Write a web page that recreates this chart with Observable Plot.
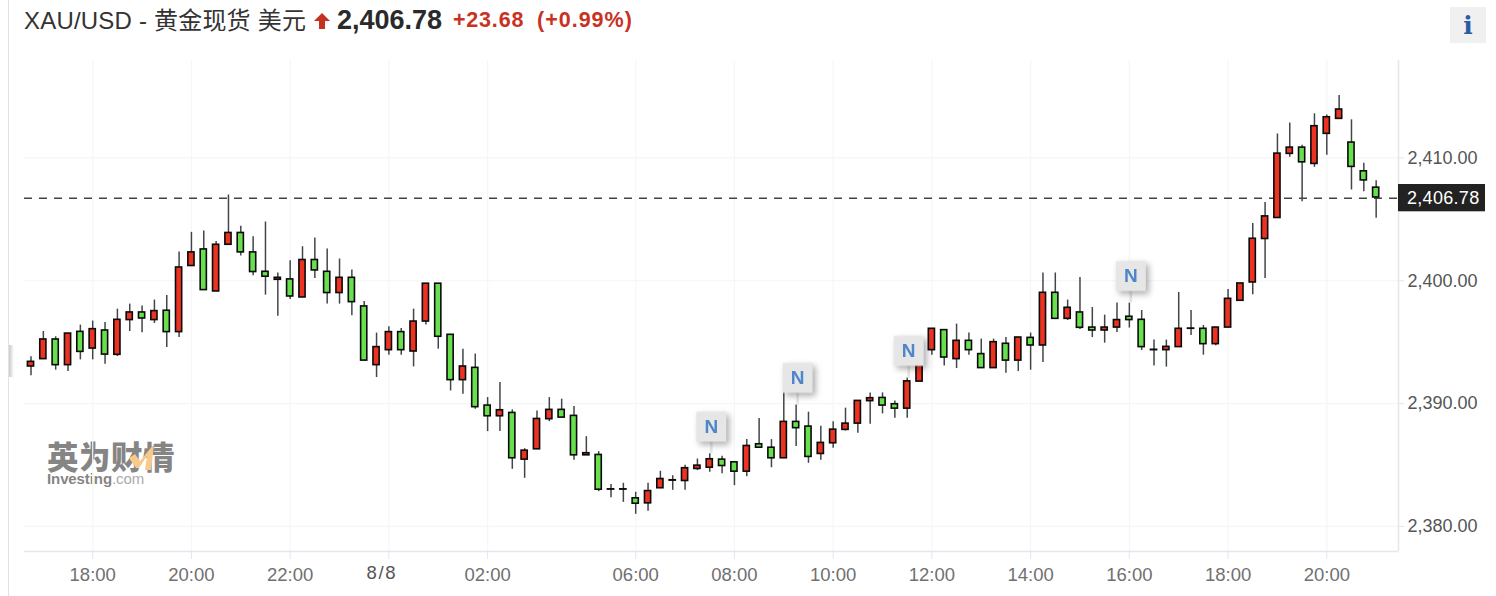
<!DOCTYPE html>
<html><head><meta charset="utf-8">
<script src="https://cdn.jsdelivr.net/npm/d3@7"></script>
<script src="https://cdn.jsdelivr.net/npm/@observablehq/plot@0.6"></script>
<style>
html,body{margin:0;padding:0;background:#fff;width:1496px;height:596px;overflow:hidden;font-family:"Liberation Sans","Noto Sans CJK SC",sans-serif}
#page{position:relative;width:1496px;height:596px;overflow:hidden}
.h{position:absolute;white-space:nowrap;line-height:1}
#chart{position:absolute;left:0;top:60px}
#chart svg{overflow:visible;display:block}
.tag{filter:drop-shadow(3px 3px 3px rgba(0,0,0,.32))}
.wide{letter-spacing:1.6px}
</style></head><body>
<div id="page">
<div style="position:absolute;left:8px;top:0;width:1px;height:596px;background:#e2e2e2"></div>
<div style="position:absolute;left:9px;top:345px;width:5px;height:32px;background:linear-gradient(90deg,#c9c9c9,#fff)"></div>
<div class="h" id="t1" style="left:24px;top:9px;font-size:24px;letter-spacing:.2px;color:#333">XAU/USD - 黄金现货 美元</div>
<svg style="position:absolute;left:314px;top:13px" width="16" height="16" viewBox="0 0 16 16"><path d="M8 0 L16 8 L11 8 L11 16 L5 16 L5 8 L0 8 Z" fill="#c4311f"/></svg>
<div class="h" id="t2" style="left:337px;top:7px;font-size:27px;font-weight:700;color:#2a2a2a">2,406.78</div>
<div class="h" id="t3" style="left:453px;top:10px;font-size:21.5px;letter-spacing:.8px;font-weight:700;color:#c8321f">+23.68</div>
<div class="h" id="t4" style="left:537px;top:10px;font-size:21.5px;letter-spacing:1px;font-weight:700;color:#c8321f">(+0.99%)</div>
<div style="position:absolute;left:1450px;top:7px;width:36px;height:36px;background:#f0f0f0;text-align:center;font:700 25px/38px 'DejaVu Serif',serif;color:#2a5ca8">i</div>
<div id="logo" style="position:absolute;left:47px;top:438px;color:#858585">
  <div style="font:900 31.5px/34px 'Noto Sans CJK SC',sans-serif;letter-spacing:0.5px;white-space:nowrap">英为财情</div>
  <svg style="position:absolute;left:82px;top:6px" width="32" height="26" viewBox="0 0 32 26"><path d="M0 14 L6 10 L11 17 L25 0 L22 26 L16 26 L18 12 L10 24 L7 24 Z" fill="#f7c98b"/></svg>
  <div style="position:absolute;left:0;top:33px;white-space:nowrap;font:700 15px/15px 'Liberation Sans',sans-serif;letter-spacing:-.1px">Investing<span style="font-weight:400;color:#aaa">.com</span></div>
</div>
<div id="chart"></div>
<div style="position:absolute;left:1398px;top:184px;width:87px;height:27px;background:#222;color:#fff;font-size:18px;letter-spacing:.3px;line-height:29px;text-indent:9px;box-shadow:0 1px 0 #bbb">2,406.78</div>
</div>
<script>
const highs=[2393.81,2395.87,2395.44,2395.70,2396.39,2396.72,2396.60,2397.69,2398.10,2397.94,
2398.43,2398.80,2402.34,2403.94,2404.05,2403.20,2406.98,2404.43,2403.59,2404.78,
2400.63,2401.63,2402.77,2403.48,2402.58,2401.77,2400.87,2398.31,2395.74,2396.25,
2396.11,2397.69,2399.76,2399.76,2395.60,2394.43,2394.03,2390.49,2391.71,2389.49,
2386.33,2389.40,2390.49,2390.36,2389.76,2387.31,2386.09,2383.41,2383.51,2382.78,
2383.51,2384.49,2384.13,2384.98,2385.49,2385.92,2385.71,2385.22,2387.07,2388.78,
2387.07,2390.90,2389.89,2389.30,2388.16,2388.53,2389.63,2390.22,2390.87,2390.87,
2390.22,2392.09,2394.29,2396.09,2395.98,2396.47,2395.74,2395.25,2395.25,2395.38,
2395.38,2395.74,2400.63,2400.63,2398.43,2400.27,2397.82,2397.20,2398.18,2398.18,
2397.58,2395.17,2395.17,2399.05,2397.58,2396.36,2396.19,2399.29,2399.78,2404.67,
2406.38,2411.95,2412.85,2411.04,2413.59,2413.50,2415.08,2413.10,2409.56,2408.15];
const lows=[2392.26,2393.62,2392.72,2392.61,2393.56,2393.56,2393.21,2393.83,2395.87,2395.76,
2396.52,2394.56,2395.38,2401.20,2399.24,2399.13,2402.93,2402.01,2400.41,2398.83,
2397.12,2398.48,2398.64,2400.19,2398.10,2398.10,2397.15,2393.50,2392.12,2393.94,
2393.94,2392.99,2396.39,2394.43,2391.03,2390.77,2389.54,2387.72,2387.72,2384.65,
2383.92,2386.28,2388.53,2388.86,2385.39,2385.79,2382.83,2382.34,2381.96,2380.99,
2381.23,2383.11,2382.94,2382.94,2384.54,2384.41,2384.29,2383.32,2384.05,2386.41,
2384.78,2385.55,2386.50,2385.14,2385.39,2386.37,2387.77,2387.59,2388.32,2389.16,
2388.81,2388.81,2391.79,2393.94,2393.07,2392.85,2393.94,2392.89,2392.89,2392.48,
2392.61,2392.72,2393.34,2396.90,2396.76,2396.03,2395.38,2394.92,2395.79,2396.15,
2394.32,2393.07,2392.97,2394.60,2395.54,2393.94,2394.70,2396.19,2398.37,2398.86,
2400.19,2405.11,2410.05,2406.44,2409.23,2410.21,2413.18,2407.39,2407.25,2405.08];
const opens=[2393.02,2393.62,2395.22,2393.13,2395.84,2394.48,2395.95,2393.97,2396.80,2397.42,
2396.80,2397.56,2395.82,2401.20,2402.55,2399.13,2402.93,2403.89,2402.31,2400.73,
2400.08,2400.11,2398.64,2401.69,2400.73,2399.00,2400.24,2397.91,2393.13,2394.35,
2395.82,2394.24,2396.68,2399.76,2395.60,2391.91,2392.91,2389.84,2388.97,2389.24,
2385.44,2386.28,2388.73,2389.49,2389.00,2385.79,2385.82,2383.00,2383.00,2382.29,
2381.88,2383.11,2383.73,2383.70,2384.68,2384.78,2385.44,2385.22,2384.46,2386.69,
2386.41,2385.55,2388.51,2388.13,2385.90,2386.77,2387.86,2388.37,2390.20,2390.46,
2389.95,2389.59,2391.79,2394.35,2395.98,2393.62,2395.11,2394.03,2392.89,2394.87,
2393.50,2395.35,2394.73,2399.02,2396.90,2397.42,2396.19,2395.95,2396.19,2397.07,
2396.82,2394.35,2394.35,2394.60,2396.09,2396.09,2394.84,2396.19,2398.37,2399.86,
2403.40,2405.11,2410.33,2410.84,2409.51,2411.96,2413.18,2411.25,2408.91,2407.58];
const closes=[2393.40,2395.22,2393.13,2395.70,2394.21,2396.06,2393.99,2396.82,2397.42,2396.93,
2397.53,2395.82,2401.08,2402.31,2399.24,2402.93,2403.89,2402.31,2400.71,2400.33,
2400.24,2398.72,2401.69,2400.84,2399.00,2400.24,2398.26,2393.50,2394.60,2395.82,
2394.35,2396.68,2399.76,2395.44,2391.91,2393.02,2389.71,2388.97,2389.46,2385.55,
2386.17,2388.75,2389.49,2388.86,2385.79,2385.96,2382.99,2383.02,2383.02,2381.85,
2382.88,2383.86,2383.76,2384.74,2384.95,2385.47,2384.92,2384.46,2386.55,2386.41,
2385.55,2388.51,2388.00,2385.66,2386.80,2387.88,2388.37,2390.22,2390.44,2389.84,
2389.59,2391.81,2394.29,2396.09,2393.75,2395.11,2394.35,2392.89,2395.00,2393.50,
2395.38,2394.73,2399.02,2396.90,2397.80,2396.17,2395.95,2396.19,2396.80,2396.80,
2394.60,2394.38,2394.62,2396.09,2396.11,2394.84,2396.19,2398.53,2399.78,2403.42,
2405.24,2410.35,2410.84,2409.64,2412.58,2413.31,2413.94,2409.27,2408.17,2406.78];
const tickIndex=[5,13,21,29,37,49,57,65,73,81,89,97,105];
const tickLabels=["18:00","20:00","22:00","8/8","02:00","06:00","08:00","10:00","12:00","14:00","16:00","18:00","20:00"];
const dateTick=29;
const priceTicks=[2380,2390,2400,2410];
const newsIndex=[55,62,71,89];
const lastPrice=2406.78;

const candles=highs.map((h,i)=>({i,high:h,low:lows[i],open:opens[i],close:closes[i]}));
const news=newsIndex.map(i=>({i,high:highs[i]}));
const RED="#ec3322",GREEN="#68e04e";
const xDomain=[-0.527,110.81], yDomain=[2377.96,2417.93];

const plot=Plot.plot({
  width:1496,height:536,
  marginLeft:24,marginRight:98,marginTop:0,marginBottom:45,
  style:{fontFamily:'"Liberation Sans",sans-serif',background:"transparent",overflow:"visible"},
  x:{type:"linear",domain:xDomain,axis:null},
  y:{type:"linear",domain:yDomain,axis:null},
  marks:[
    Plot.ruleY(priceTicks,{stroke:"#f5f5f5",strokeWidth:1.2}),
    Plot.ruleX(tickIndex,{stroke:"#f5f6f8",strokeWidth:1.2}),
    Plot.ruleY([yDomain[0]],{stroke:"#e3e6ee",strokeWidth:1.5}),
    Plot.ruleX([xDomain[1]],{stroke:"#e3e6ee",strokeWidth:1.5}),
    Plot.axisX(tickIndex,{anchor:"bottom",tickSize:8,tickPadding:8,stroke:"#e3e6ee",fill:"#707070",fontSize:18.5,label:null,
      tickFormat:i=>i===dateTick?"":tickLabels[tickIndex.indexOf(i)]}),
    Plot.text([dateTick],{x:d=>d,y:()=>yDomain[0],text:d=>tickLabels[tickIndex.indexOf(d)],dx:-7,dy:22,fill:"#555",fontSize:18.5,className:"wide"}),
    Plot.axisY(priceTicks,{anchor:"right",tickSize:5,tickPadding:4,stroke:"#e3e6ee",fill:"#555",fontSize:18,label:null,
      tickFormat:d3.format(",.2f"),textAnchor:"start"}),
    Plot.ruleY([lastPrice],{stroke:"#444",strokeWidth:1.4,strokeDasharray:"8,7",dy:0.8}),
    Plot.ruleX(candles,{x:"i",y1:"low",y2:"high",stroke:"#41464a",strokeWidth:1.5}),
    Plot.rect(candles,{
      x1:d=>d.i-0.25,x2:d=>d.i+0.25,
      y1:"open",y2:"close",
      fill:d=>d.close>=d.open?RED:GREEN,
      stroke:"#0a0a0a",strokeWidth:1.6}),
    Plot.ruleX(news,{x:"i",y1:"high",y2:d=>d.high+1.1,stroke:"#e6e6e6",strokeWidth:2.7,dx:1.5}),
    Plot.dot(news,{x:"i",y:"high",symbol:"square",r:16.9,fill:"#e6e6e6",dx:1.5,dy:-27,className:"tag"}),
    Plot.text(news,{x:"i",y:"high",text:()=>"N",dx:1.5,dy:-27,fill:"#4f86c9",fontSize:19,fontWeight:700})
  ]
});
document.getElementById("chart").appendChild(plot);
</script>
</body></html>
